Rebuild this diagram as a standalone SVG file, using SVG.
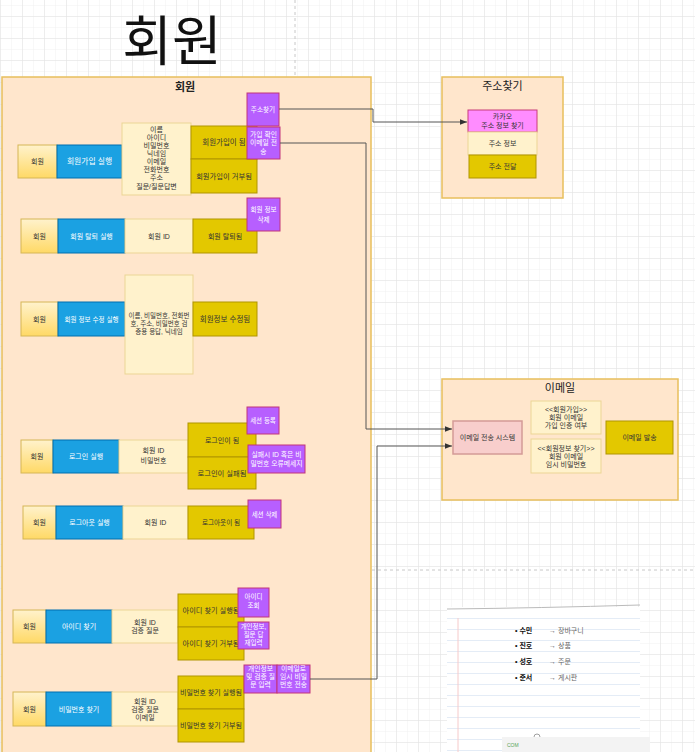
<svg xmlns="http://www.w3.org/2000/svg" width="695" height="752" viewBox="0 0 695 752">
<defs>
<pattern id="gMinor" width="11" height="11" patternUnits="userSpaceOnUse" x="1" y="6">
<path d="M11 0V11M0 11H11" fill="none" stroke="#f0f0f0" stroke-width="1"/>
</pattern>
<pattern id="gMajor" width="22" height="22" patternUnits="userSpaceOnUse" x="1" y="17">
<path d="M22 0V22M0 22H22" fill="none" stroke="#e3e3e3" stroke-width="1"/>
</pattern>
<pattern id="paper" width="10" height="11" patternUnits="userSpaceOnUse" x="0" y="608">
<path d="M0 10.5H10" stroke="#e4ecf6" stroke-width="1"/>
</pattern>
<linearGradient id="member" x1="0" y1="0" x2="0" y2="1">
<stop offset="0" stop-color="#fff2cc"/>
<stop offset="1" stop-color="#ffd966"/>
</linearGradient>
<marker id="arr" viewBox="0 0 10 10" refX="10" refY="5" markerWidth="7" markerHeight="7" orient="auto" markerUnits="userSpaceOnUse">
<path d="M0 1L10 5L0 9z" fill="#333"/>
</marker>
<style>
text{font-family:"Liberation Sans","Noto Sans CJK KR",sans-serif;text-anchor:middle;font-size:7px;fill:#333}
.mem{fill:url(#member);stroke:#d6b656;stroke-width:1}
.blue{fill:#1ba1e2;stroke:#006eaf;stroke-width:1}
.lt{fill:#fff2cc;stroke:#ecd595;stroke-width:1}
.gold{fill:#e3c800;stroke:#b09500;stroke-width:1}
.pur{fill:#b75fff;stroke:#c2357a;stroke-width:1}
.pink{fill:#ff8cff;stroke:#c83c78;stroke-width:1}
.red{fill:#f8cecc;stroke:#d49b97;stroke-width:1.5}
.cont{fill:#ffe6cc;stroke:#e8bf5c;stroke-width:1.5}
.w{fill:#fff}
.ttl{font-size:11px}
.conn{fill:none;stroke:#555;stroke-width:1}
.dash{fill:none;stroke:#c8c8c8;stroke-width:1;stroke-dasharray:3 3}
</style>
</defs>
<rect width="695" height="752" fill="#fff"/>
<rect width="695" height="752" fill="url(#gMinor)"/>
<rect width="695" height="752" fill="url(#gMajor)"/>
<path class="dash" d="M295 0V77M372 570H695"/>

<text x="172" y="61" style="font-size:54px;fill:#111">회원</text>

<g id="container-member">
<rect class="cont" x="2" y="77" width="369" height="690"/>
<text x="185" y="90.5" class="ttl" style="font-weight:bold;fill:#222">회원</text>
</g>

<g id="container-address">
<rect class="cont" x="442" y="77" width="121" height="121"/>
<text x="502.5" y="90" class="ttl" style="fill:#222">주소찾기</text>
</g>

<g id="container-email">
<rect class="cont" x="442" y="379" width="236" height="121"/>
<text x="560" y="392" class="ttl" style="fill:#222">이메일</text>
</g>

<!-- Row 1: 회원가입 -->
<g id="join-member"><rect class="mem" x="18" y="145" width="39" height="33"/><text x="37.5" y="164">회원</text></g>
<g id="join-run"><rect class="blue" x="57" y="145" width="65" height="33"/><text class="w" x="89.5" y="164" style="font-size:7.8px">회원가입 실행</text></g>
<g id="join-info"><rect class="lt" x="122" y="123" width="69" height="72"/>
<text x="156.5" y="131.5">이름<tspan x="156.5" dy="8.15">아이디</tspan><tspan x="156.5" dy="8.15">비밀번호</tspan><tspan x="156.5" dy="8.15">닉네임</tspan><tspan x="156.5" dy="8.15">이메일</tspan><tspan x="156.5" dy="8.15">전화번호</tspan><tspan x="156.5" dy="8.15">주소</tspan><tspan x="156.5" dy="8.15">질문/질문답변</tspan></text></g>
<g id="join-ok"><rect class="gold" x="191" y="126" width="66" height="33"/><text x="224" y="145" style="font-size:7.5px">회원가입이 됨</text></g>
<g id="join-deny"><rect class="gold" x="191" y="159" width="66" height="34"/><text x="224" y="178.5" style="font-size:7.3px">회원가입이 거부됨</text></g>
<g id="join-addr"><rect class="pur" x="247" y="93" width="32" height="33"/><text class="w" x="263" y="112" style="font-size:6.6px">주소찾기</text></g>
<g id="join-mail"><rect class="pur" x="247" y="127" width="33" height="32"/><text class="w" x="263.5" y="136.5" style="font-size:6.8px">가입 확인<tspan x="263.5" dy="8.5">이메일 전</tspan><tspan x="263.5" dy="8.5">송</tspan></text></g>

<!-- Row 2: 탈퇴 -->
<g id="quit-member"><rect class="mem" x="21" y="219" width="37" height="34"/><text x="39.5" y="238.5">회원</text></g>
<g id="quit-run"><rect class="blue" x="58" y="219" width="67" height="34"/><text class="w" x="91.5" y="238.5">회원 탈퇴 실행</text></g>
<g id="quit-id"><rect class="lt" x="125" y="219" width="68" height="34"/><text x="159" y="238.5">회원 ID</text></g>
<g id="quit-ok"><rect class="gold" x="193" y="219" width="64" height="34"/><text x="225" y="238.5">회원 탈퇴됨</text></g>
<g id="quit-del"><rect class="pur" x="247" y="198" width="33" height="33"/><text class="w" x="263.5" y="212" style="font-size:6.6px">회원 정보<tspan x="263.5" dy="9.5">삭제</tspan></text></g>

<!-- Row 3: 정보 수정 -->
<g id="edit-member"><rect class="mem" x="21" y="302" width="37" height="34"/><text x="39.5" y="321.5">회원</text></g>
<g id="edit-run"><rect class="blue" x="58" y="302" width="67" height="34"/><text class="w" x="91.5" y="321.5" style="font-size:6.6px">회원 정보 수정 실행</text></g>
<g id="edit-info"><rect class="lt" x="125" y="275" width="68" height="99"/><text x="159" y="317.5" style="font-size:6.5px">이름, 비밀번호, 전화번<tspan x="159" dy="8.3">호, 주소, 비밀번호 검</tspan><tspan x="159" dy="8.3">증용 응답, 닉네임</tspan></text></g>
<g id="edit-ok"><rect class="gold" x="193" y="302" width="64" height="34"/><text x="225" y="321.5" style="font-size:7.5px">회원정보 수정됨</text></g>

<!-- Row 4: 로그인 -->
<g id="login-member"><rect class="mem" x="21" y="440" width="32" height="33"/><text x="37" y="459">회원</text></g>
<g id="login-run"><rect class="blue" x="53" y="440" width="66" height="33"/><text class="w" x="86" y="459">로그인 실행</text></g>
<g id="login-info"><rect class="lt" x="119" y="440" width="69" height="33"/><text x="153.5" y="453">회원 ID<tspan x="153.5" dy="9.5">비밀번호</tspan></text></g>
<g id="login-ok"><rect class="gold" x="188" y="423" width="68" height="34"/><text x="222" y="442.5">로그인이 됨</text></g>
<g id="login-fail"><rect class="gold" x="188" y="457" width="68" height="32"/><text x="222" y="475.5" style="font-size:7.3px">로그인이 실패됨</text></g>
<g id="login-session"><rect class="pur" x="247" y="407" width="32" height="27"/><text class="w" x="263" y="423" style="font-size:6.5px">세션 등록</text></g>
<g id="login-error"><rect class="pur" x="248" y="445" width="57" height="28"/><text class="w" x="276.5" y="457" style="font-size:6.8px">실패시 ID 혹은 비<tspan x="276.5" dy="8.5">밀번호 오류메세지</tspan></text></g>

<!-- Row 5: 로그아웃 -->
<g id="logout-member"><rect class="mem" x="23" y="506" width="33" height="33"/><text x="39.5" y="525">회원</text></g>
<g id="logout-run"><rect class="blue" x="56" y="506" width="67" height="33"/><text class="w" x="89.5" y="525">로그아웃 실행</text></g>
<g id="logout-id"><rect class="lt" x="123" y="506" width="65" height="33"/><text x="155.5" y="525">회원 ID</text></g>
<g id="logout-ok"><rect class="gold" x="188" y="506" width="66" height="33"/><text x="221" y="525" style="font-size:6.6px">로그아웃이 됨</text></g>
<g id="logout-session"><rect class="pur" x="248" y="500" width="33" height="28"/><text class="w" x="264.5" y="516.5" style="font-size:6.5px">세션 삭제</text></g>

<!-- Row 6: 아이디 찾기 -->
<g id="fid-member"><rect class="mem" x="13" y="610" width="33" height="33"/><text x="29.5" y="629">회원</text></g>
<g id="fid-run"><rect class="blue" x="46" y="610" width="66" height="33"/><text class="w" x="79" y="629">아이디 찾기</text></g>
<g id="fid-info"><rect class="lt" x="112" y="610" width="66" height="33"/><text x="145" y="625">회원 ID<tspan x="145" dy="8.3">검증 질문</tspan></text></g>
<g id="fid-ok"><rect class="gold" x="178" y="594" width="66" height="33"/><text x="211" y="613" style="font-size:7.2px">아이디 찾기 실행됨</text></g>
<g id="fid-deny"><rect class="gold" x="178" y="627" width="66" height="33"/><text x="211" y="646" style="font-size:7.2px">아이디 찾기 거부됨</text></g>
<g id="fid-lookup"><rect class="pur" x="238" y="588" width="31" height="29"/><text class="w" x="253.5" y="598.5" style="font-size:6.5px">아이디<tspan x="253.5" dy="9">조회</tspan></text></g>
<g id="fid-retry"><rect class="pur" x="238" y="622" width="31" height="27"/><text class="w" x="253.5" y="628.5" style="font-size:6.5px">개인정보,<tspan x="253.5" dy="8.2">질문 답</tspan><tspan x="253.5" dy="8.2">재입력</tspan></text></g>

<!-- Row 7: 비밀번호 찾기 -->
<g id="fpw-member"><rect class="mem" x="13" y="692" width="33" height="34"/><text x="29.5" y="711.5">회원</text></g>
<g id="fpw-run"><rect class="blue" x="46" y="692" width="66" height="34"/><text class="w" x="79" y="711.5">비밀번호 찾기</text></g>
<g id="fpw-info"><rect class="lt" x="112" y="692" width="66" height="34"/><text x="145" y="703.5">회원 ID<tspan x="145" dy="8.2">검증 질문</tspan><tspan x="145" dy="8.4">이메일</tspan></text></g>
<g id="fpw-ok"><rect class="gold" x="178" y="676" width="66" height="33"/><text x="211" y="695" style="font-size:7px">비밀번호 찾기 실행됨</text></g>
<g id="fpw-deny"><rect class="gold" x="178" y="709" width="66" height="33"/><text x="211" y="728" style="font-size:7px">비밀번호 찾기 거부됨</text></g>
<g id="fpw-input"><rect class="pur" x="244" y="665" width="33" height="28"/><text class="w" x="260.5" y="671" style="font-size:6.8px">개인정보<tspan x="260.5" dy="8.2">및 검증 질</tspan><tspan x="260.5" dy="8.2">문 입력</tspan></text></g>
<g id="fpw-mail"><rect class="pur" x="277" y="665" width="33" height="28"/><text class="w" x="293.5" y="671" style="font-size:6.8px">이메일로<tspan x="293.5" dy="8.2">임시 비밀</tspan><tspan x="293.5" dy="8.2">번호 전송</tspan></text></g>

<!-- 주소찾기 -->
<g id="addr-kakao"><rect class="pink" x="468" y="110" width="69" height="22"/><text x="502.5" y="119">카카오<tspan x="502.5" dy="8.5">주소 정보 찾기</tspan></text></g>
<g id="addr-info"><rect class="lt" x="468" y="132" width="69" height="23"/><text x="502.5" y="146">주소 정보</text></g>
<g id="addr-send"><rect class="gold" x="469" y="155" width="67" height="23"/><text x="502.5" y="169">주소 전달</text></g>

<!-- 이메일 -->
<g id="mail-system"><rect class="red" x="453" y="421" width="69" height="33"/><text x="487.5" y="440">이메일 전송 시스템</text></g>
<g id="mail-join"><rect class="lt" x="531" y="401" width="70" height="33"/><text x="566" y="411.5">&lt;&lt;회원가입&gt;&gt;<tspan x="566" dy="8">회원 이메일</tspan><tspan x="566" dy="8">가입 인증 여부</tspan></text></g>
<g id="mail-find"><rect class="lt" x="531" y="439" width="70" height="34"/><text x="566" y="451">&lt;&lt;회원정보 찾기&gt;&gt;<tspan x="566" dy="7.5">회원 이메일</tspan><tspan x="566" dy="8.5">임시 비밀번호</tspan></text></g>
<g id="mail-dispatch"><rect class="gold" x="606" y="421" width="67" height="33"/><text x="639.5" y="440">이메일 발송</text></g>

<!-- legend paper -->
<g id="legend">
<rect x="447" y="607" width="193" height="145" fill="#fff"/>
<rect x="447" y="612" width="193" height="140" fill="url(#paper)"/>
<path d="M447 609Q540 608 640 605" fill="none" stroke="#bbb" stroke-width="1"/>
<path d="M458 618V752" stroke="#f6caca" stroke-width="1"/>
<g style="font-size:7px">
<text x="515" y="632.5" style="text-anchor:start;font-weight:bold;fill:#111">• 수민</text><text x="549" y="632.5" style="text-anchor:start;fill:#666">→ 장바구니</text>
<text x="515" y="648" style="text-anchor:start;font-weight:bold;fill:#111">• 진호</text><text x="549" y="648" style="text-anchor:start;fill:#666">→ 상품</text>
<text x="515" y="664" style="text-anchor:start;font-weight:bold;fill:#111">• 성호</text><text x="549" y="664" style="text-anchor:start;fill:#666">→ 주문</text>
<text x="515" y="679.5" style="text-anchor:start;font-weight:bold;fill:#111">• 준서</text><text x="549" y="679.5" style="text-anchor:start;fill:#666">→ 게시판</text>
</g>
<circle cx="537" cy="737" r="3" fill="none" stroke="#888" stroke-width="0.8"/>
<rect x="502" y="737" width="148" height="15" fill="#f3f3f3"/>
<text x="507" y="747" style="text-anchor:start;font-size:5px;fill:#5aa55a">COM</text>
</g>

<!-- connectors -->
<g id="connectors">
<path class="conn" d="M279 109H373V122H467" marker-end="url(#arr)"/>
<path class="conn" d="M280 143H366V429H452" marker-end="url(#arr)"/>
<path class="conn" d="M310 679H377V446H452" marker-end="url(#arr)"/>
</g>
</svg>
